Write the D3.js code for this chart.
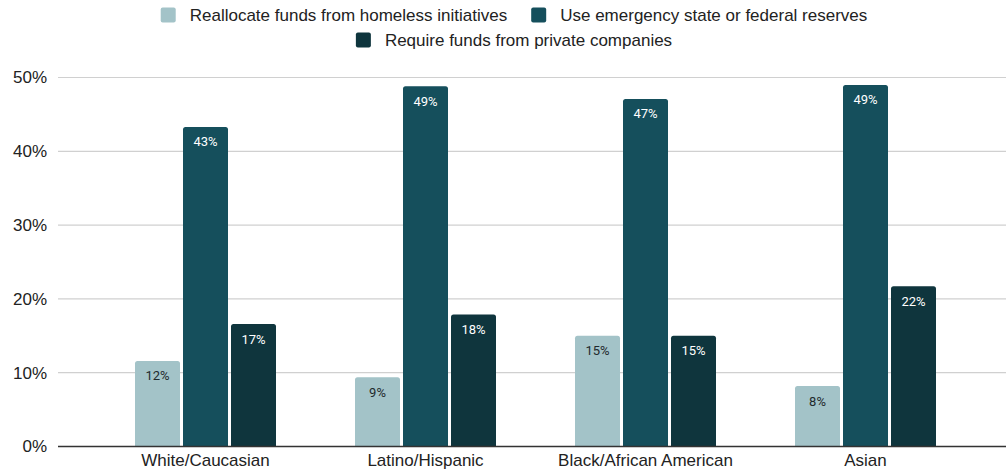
<!DOCTYPE html>
<html>
<head>
<meta charset="utf-8">
<script src="https://cdn.jsdelivr.net/npm/d3@7"></script>
<style>
  html, body { margin: 0; padding: 0; background: #fff; }
  svg { display: block; }
</style>
</head>
<body>
<svg id="chart" width="1006" height="476"></svg>
<script>
// Survey groups and the three funding options
const categories = ["White/Caucasian", "Latino/Hispanic", "Black/African American", "Asian"];
const seriesNames = [
  "Reallocate funds from homeless initiatives",
  "Use emergency state or federal reserves",
  "Require funds from private companies"
];
const reallocate = [0.116, 0.094, 0.150, 0.082];
const emergency  = [0.433, 0.488, 0.471, 0.490];
const privateCo  = [0.166, 0.179, 0.150, 0.217];
const yTicks = [0, 0.1, 0.2, 0.3, 0.4, 0.5];

const seriesValues = [reallocate, emergency, privateCo];
const colors = ["#a3c3c8", "#154f5c", "#0f353d"];
const labelColors = ["#1f2a2d", "#ffffff", "#ffffff"];

const svg = d3.select("#chart");
const plot = { left: 58, right: 1006, top: 77.5, bottom: 446.5 };
const textFont = "'Liberation Sans', Arial, sans-serif";

const y = d3.scaleLinear().domain([0, 0.5]).range([plot.bottom, plot.top]);
const x0 = d3.scaleBand().domain(categories).range([95.5, 975.5]).paddingInner(0).paddingOuter(0);
const groupW = 141;
const x1 = d3.scaleBand().domain(d3.range(seriesNames.length))
  .range([(x0.bandwidth() - groupW) / 2, (x0.bandwidth() + groupW) / 2])
  .paddingInner(3 / 48).paddingOuter(0);

// gridlines
svg.append("g")
  .selectAll("line")
  .data(yTicks.filter(t => t > 0))
  .join("line")
  .attr("x1", plot.left).attr("x2", plot.right)
  .attr("y1", d => y(d)).attr("y2", d => y(d))
  .attr("stroke", "#d0d0d0").attr("stroke-width", 1.2);

// y axis labels
const yAxis = d3.axisLeft(y).tickValues(yTicks).tickFormat(d3.format(".0%")).tickSize(0).tickPadding(0);
svg.append("g")
  .attr("transform", `translate(47,0)`)
  .call(yAxis)
  .call(g => g.select(".domain").remove())
  .call(g => g.selectAll("text")
    .attr("font-family", textFont)
    .attr("font-size", 17)
    .attr("fill", "#222"));

// bars with slightly rounded tops
function barPath(x, yTop, w, yBase, r) {
  r = Math.min(r, (yBase - yTop));
  return `M${x},${yBase}V${yTop + r}Q${x},${yTop} ${x + r},${yTop}H${x + w - r}Q${x + w},${yTop} ${x + w},${yTop + r}V${yBase}Z`;
}

const fmt = d3.format(".0%");
const groups = svg.append("g").selectAll("g")
  .data(categories)
  .join("g")
  .attr("transform", d => `translate(${x0(d)},0)`);

groups.each(function(cat, ci) {
  const g = d3.select(this);
  seriesValues.forEach((vals, si) => {
    const v = vals[ci];
    g.append("path")
      .attr("d", barPath(x1(si), y(v), x1.bandwidth(), y(0), 2.5))
      .attr("fill", colors[si]);
    g.append("text")
      .attr("x", x1(si) + x1.bandwidth() / 2)
      .attr("y", y(v) + 15)
      .attr("dy", "0.35em")
      .attr("text-anchor", "middle")
      .attr("font-family", "Roboto, 'Noto Sans', sans-serif")
      .attr("font-size", 13)
      .attr("font-weight", 400)
      .attr("fill", labelColors[si])
      .text(fmt(v));
  });
});

// baseline
svg.append("line")
  .attr("x1", plot.left).attr("x2", plot.right)
  .attr("y1", y(0)).attr("y2", y(0))
  .attr("stroke", "#333").attr("stroke-width", 1.3);

// category axis
const xAxis = d3.axisBottom(x0).tickSize(0).tickPadding(0);
svg.append("g")
  .attr("transform", `translate(0,${y(0) + 7})`)
  .call(xAxis)
  .call(g => g.select(".domain").remove())
  .call(g => g.selectAll("text")
    .attr("font-family", textFont)
    .attr("font-size", 17)
    .attr("fill", "#222"));

// legend, two centred rows
const legendRows = [[0, 1], [2]];
const legendCenter = 514;
const rowY = [15, 40];
const sw = 15, swGap = 14, itemGap = 24;
const legend = svg.append("g");
legendRows.forEach((row, ri) => {
  const rowG = legend.append("g");
  let cx = 0;
  row.forEach(si => {
    rowG.append("rect")
      .attr("x", cx).attr("y", rowY[ri] - sw / 2)
      .attr("width", sw).attr("height", sw)
      .attr("rx", 2)
      .attr("fill", colors[si]);
    const t = rowG.append("text")
      .attr("x", cx + sw + swGap).attr("y", rowY[ri])
      .attr("dy", "0.35em")
      .attr("font-family", textFont)
      .attr("font-size", 17)
      .attr("fill", "#222")
      .text(seriesNames[si]);
    cx += sw + swGap + t.node().getComputedTextLength() + itemGap;
  });
  const total = cx - itemGap;
  rowG.attr("transform", `translate(${legendCenter - total / 2},0)`);
});
</script>
</body>
</html>
